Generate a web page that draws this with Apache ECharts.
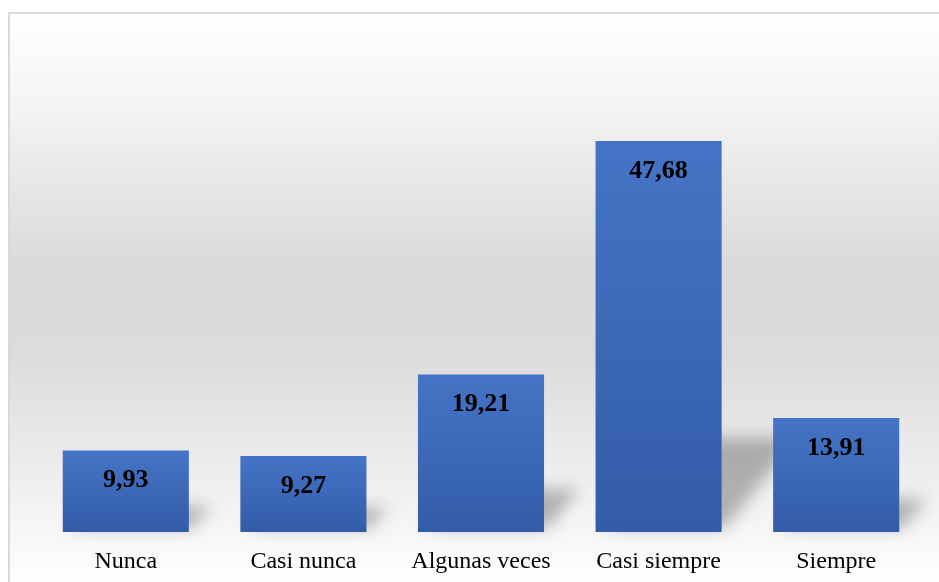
<!DOCTYPE html>
<html>
<head>
<meta charset="utf-8">
<script src="https://cdn.jsdelivr.net/npm/echarts@6/dist/echarts.min.js"></script>
<style>
  html, body { margin: 0; padding: 0; background: #ffffff; }
  #chart { width: 939px; height: 582px; }
</style>
</head>
<body>
<div id="chart"></div>
<script>
// Frecuencia de respuestas (%)
const categories = ['Nunca', 'Casi nunca', 'Algunas veces', 'Casi siempre', 'Siempre'];
const values = [9.93, 9.27, 19.21, 47.68, 13.91];

const chart = echarts.init(document.getElementById('chart'));

// Soft perspective shadow cast behind each bar, toward the right.
// The shape itself is placed off canvas so only its blurred shadow shows.
const SHIFT = 1200;
function renderShadow(params, api) {
  const base = api.coord([api.value(0), 0]);
  const top = api.coord([api.value(0), api.value(1)]);
  const band = api.size([1, 0])[0];
  const w = band * 0.71;
  const h = base[1] - top[1];
  const x0 = base[0] - w / 2;
  const x1 = base[0] + w / 2;
  const yb = base[1] - 4;
  const rise = h * 0.22 + 4;
  const skew = h * 0.17 + 8;
  return {
    type: 'polygon',
    shape: {
      points: [
        [x0 + 10 - SHIFT, yb],
        [x1 + 4 - SHIFT, yb],
        [x1 + skew - SHIFT, yb - rise],
        [x0 + skew + 10 - SHIFT, yb - rise]
      ]
    },
    style: {
      fill: '#000',
      shadowBlur: 16,
      shadowOffsetX: SHIFT,
      shadowColor: 'rgba(0,0,0,0.27)'
    }
  };
}

chart.setOption({
  animation: false,
  graphic: [{
    type: 'rect',
    left: 8, top: 12,
    shape: { width: 940, height: 575 },
    style: {
      stroke: '#d9d9d9',
      lineWidth: 2,
      fill: {
        type: 'linear', x: 0, y: 0, x2: 0, y2: 1,
        colorStops: [
          { offset: 0, color: '#ffffff' },
          { offset: 0.15, color: '#f5f5f5' },
          { offset: 0.45, color: '#d9d9d9' },
          { offset: 0.6, color: '#dcdcdc' },
          { offset: 0.78, color: '#ececec' },
          { offset: 0.95, color: '#fbfbfb' },
          { offset: 1, color: '#ffffff' }
        ]
      }
    },
    z: -10
  }],
  grid: { left: 37, right: 14, top: 40, bottom: 50 },
  xAxis: {
    type: 'category',
    data: categories,
    axisLine: { show: false },
    axisTick: { show: false },
    axisLabel: {
      interval: 0,
      fontFamily: 'Liberation Serif',
      fontSize: 24,
      color: '#000000',
      margin: 18
    }
  },
  yAxis: {
    type: 'value',
    min: 0, max: 60,
    show: false,
    splitLine: { show: false }
  },
  series: [
    {
      type: 'custom',
      data: values.map((v, i) => [i, v]),
      renderItem: renderShadow,
      clip: false,
      silent: true,
      z: 1
    },
    {
      type: 'bar',
      data: values,
      barWidth: '71%',
      z: 2,
      itemStyle: {
        color: {
          type: 'linear', x: 0, y: 0, x2: 0, y2: 1,
          colorStops: [
            { offset: 0, color: '#4574c6' },
            { offset: 1, color: '#335ca8' }
          ]
        }
      },
      label: {
        show: true,
        position: 'insideTop',
        distance: 17,
        formatter: p => p.value.toFixed(2).replace('.', ','),
        fontFamily: 'Liberation Serif',
        fontWeight: 'bold',
        fontSize: 26,
        color: '#000000'
      }
    }
  ]
});
</script>
</body>
</html>
